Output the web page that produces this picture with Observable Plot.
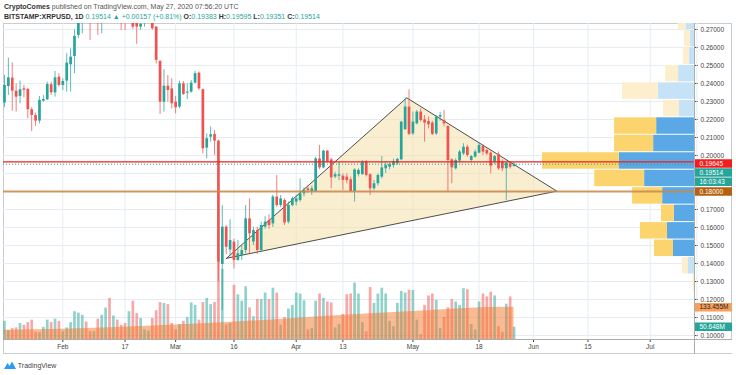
<!DOCTYPE html>
<html><head><meta charset="utf-8">
<script src="https://cdn.jsdelivr.net/npm/d3@7"></script>
<script src="https://cdn.jsdelivr.net/npm/@observablehq/plot@0.6"></script>
<style>
body{margin:0;background:#fff;font-family:"Liberation Sans",Arial,sans-serif;}
#wrap{position:relative;width:736px;height:375px;overflow:hidden;background:#fff;}
.layer{position:absolute;top:0;left:0;}
.hdr{position:absolute;left:4px;font-size:7px;line-height:9px;white-space:nowrap;color:#555;}
.hdr b{color:#333;}
.t{color:#26a69a;}
.box{position:absolute;box-sizing:border-box;}
</style></head>
<body><div id="wrap">
<div class="hdr" style="top:2px"><b>CryptoComes</b> published on TradingView.com, May 27, 2020 07:56:20 UTC</div>
<div class="hdr" id="hdr2" style="top:12px"></div>
<div class="box" style="left:3px;top:23px;width:729px;height:331px;border:1px solid #c9ccd1;"></div>
<div id="L1" class="layer"></div>
<div id="L2" class="layer"></div>
<div id="L3" class="layer"></div>
<div id="L4" class="layer"></div>
<div class="box" style="left:694.5px;top:340px;width:37px;height:13px;background:#fff;"></div>
<div class="box" style="left:694px;top:23px;width:1px;height:331px;background:#a9adb4;"></div>
<div class="box" style="left:3px;top:339px;width:729px;height:1px;background:#a9adb4;"></div>
<div id="L5" class="layer" style="left:695px"></div>
<div id="L6" class="layer" style="left:695px"></div>
<div class="box" style="left:4px;top:361px;height:10px;font-size:7px;color:#444;white-space:nowrap;">
<svg width="12" height="8" viewBox="0 0 12 8" style="vertical-align:-1px"><path d="M0 8 L3.5 2 L5.5 5 L8 0.5 L12 8 Z" fill="#2a9df4"/></svg> TradingView</div>
</div>
<script>
// ---- data ----
const firstDay = "2020-01-17";
const open  = [0.2291,0.2383,0.2430,0.2357,0.2328,0.2370,0.2367,0.2254,0.2222,0.2191,0.2302,0.2309,0.2393,0.2348,0.2435,
 0.2389,0.2413,0.2504,0.2550,0.2667,0.2780,0.2850,0.2840,0.2790,0.2850,0.2790,0.3000,0.3300,0.3200,0.3250,0.3000,0.2850,0.2780,0.2900,0.2735,0.2713,0.2760,0.2790,0.2840,0.2713,0.2522,0.2296,0.2385,0.2370,
 0.2296,0.2269,0.2398,0.2346,0.2352,0.2402,0.2457,0.2365,0.2041,0.2102,0.2117,0.2080,0.1395,0.1602,0.1475,0.1519,0.1417,0.1444,0.1472,0.1648,0.1519,0.1583,0.1472,0.1602,0.1639,0.1620,0.1769,0.1722,0.1750,0.1630,0.1722,
 0.1741,0.1750,0.1787,0.1815,0.1800,0.1800,0.1981,0.1931,0.2024,0.1976,0.1880,0.1885,0.1885,0.1880,0.1865,0.1800,0.1894,0.1894,0.1963,0.1893,0.1815,0.1843,0.1880,0.1926,0.1935,0.1944,0.1954,0.1976,0.2143,0.2269,
 0.2120,0.2176,0.2241,0.2198,0.2189,0.2180,0.2120,0.2213,0.2194,0.2161,0.1976,0.1926,0.1969,0.2009,0.2046,0.1972,0.1991,0.2013,0.2050,0.2028,0.2013,0.1963,0.2006,0.1963,0.1926,0.1954,0.19383];
const high  = [0.2444,0.2541,0.2515,0.2398,0.2413,0.2389,0.2372,0.2265,0.2235,0.2328,0.2333,0.2407,0.2407,0.2467,0.2454,
 0.2426,0.2565,0.2593,0.2698,0.2800,0.2900,0.2900,0.2900,0.2880,0.2900,0.3050,0.3350,0.3450,0.3300,0.3300,0.3050,0.2900,0.2950,0.2950,0.2770,0.2800,0.2820,0.2900,0.2870,0.2716,0.2528,0.2476,0.2444,0.2426,
 0.2328,0.2413,0.2411,0.2398,0.2417,0.2467,0.2463,0.2370,0.2120,0.2159,0.2139,0.2085,0.1722,0.1611,0.1643,0.1535,0.1528,0.1500,0.1722,0.1759,0.1602,0.1602,0.1630,0.1660,0.1670,0.1780,0.1889,0.1778,0.1759,0.1741,0.1770,
 0.1780,0.1870,0.1820,0.1830,0.1830,0.1990,0.2056,0.2028,0.2028,0.1985,0.1907,0.1963,0.1898,0.1898,0.1880,0.1926,0.1926,0.1972,0.1972,0.1898,0.1861,0.1898,0.1994,0.1963,0.1960,0.1980,0.1985,0.2190,0.2320,0.2365,
 0.2241,0.2250,0.2259,0.2222,0.2213,0.2190,0.2222,0.2240,0.2250,0.2165,0.1981,0.1981,0.2028,0.2065,0.2056,0.2000,0.2030,0.2069,0.2060,0.2037,0.2019,0.2000,0.2019,0.1976,0.1965,0.1960,0.19595];
const low   = [0.2265,0.2333,0.2246,0.2241,0.2287,0.2320,0.2204,0.2133,0.2161,0.2176,0.2296,0.2306,0.2333,0.2324,0.2380,
 0.2361,0.2352,0.2352,0.2454,0.2650,0.2676,0.2770,0.2639,0.2770,0.2667,0.2676,0.2980,0.3100,0.3150,0.2950,0.2694,0.2694,0.2760,0.2700,0.2617,0.2694,0.2713,0.2770,0.2695,0.2509,0.2228,0.2241,0.2296,0.2259,
 0.2231,0.2259,0.2333,0.2310,0.2346,0.2398,0.2361,0.2009,0.1981,0.2074,0.2000,0.1300,0.1140,0.1450,0.1444,0.1370,0.1413,0.1417,0.1454,0.1454,0.1500,0.1450,0.1460,0.1590,0.1590,0.1600,0.1710,0.1710,0.1611,0.1620,0.1715,
 0.1720,0.1740,0.1770,0.1790,0.1778,0.1796,0.1920,0.1926,0.1957,0.1815,0.1870,0.1861,0.1806,0.1843,0.1796,0.1741,0.1880,0.1889,0.1880,0.1778,0.1806,0.1830,0.1870,0.1900,0.1920,0.1930,0.1945,0.1970,0.2140,0.2110,
 0.2111,0.2170,0.2185,0.2074,0.2148,0.2111,0.2111,0.2190,0.2160,0.1796,0.1843,0.1920,0.1960,0.2000,0.1990,0.1960,0.1985,0.2009,0.2000,0.2000,0.1898,0.1950,0.1917,0.1910,0.1750,0.1925,0.19351];
const close = [0.2389,0.2431,0.2357,0.2324,0.2365,0.2362,0.2254,0.2222,0.2191,0.2306,0.2311,0.2394,0.2348,0.2431,0.2389,
 0.2411,0.2513,0.2546,0.2661,0.2780,0.2850,0.2810,0.2790,0.2850,0.2790,0.3000,0.3300,0.3200,0.3250,0.3000,0.2850,0.2780,0.2900,0.2713,0.2713,0.2728,0.2790,0.2840,0.2704,0.2528,0.2296,0.2385,0.2361,0.2287,
 0.2265,0.2398,0.2339,0.2352,0.2402,0.2454,0.2370,0.2037,0.2093,0.2115,0.2080,0.1407,0.1602,0.1490,0.1528,0.1417,0.1454,0.1472,0.1648,0.1565,0.1583,0.1472,0.1611,0.1630,0.1611,0.1769,0.1722,0.1759,0.1625,0.1722,0.1759,
 0.1759,0.1787,0.1806,0.1806,0.1815,0.1981,0.1931,0.2024,0.1963,0.1876,0.1893,0.1893,0.1861,0.1861,0.1800,0.1920,0.1917,0.1963,0.1889,0.1815,0.1843,0.1889,0.1931,0.1944,0.1950,0.1967,0.1978,0.2185,0.2269,0.2117,
 0.2185,0.2241,0.2194,0.2180,0.2170,0.2117,0.2213,0.2222,0.2176,0.1972,0.1931,0.1972,0.2019,0.2046,0.2000,0.1994,0.2019,0.2056,0.2019,0.2009,0.1941,0.1994,0.1926,0.1926,0.1957,0.1935,0.19514];
const volume = [75,37,45,48,66,59,70,80,30,28,50,80,70,84,75,
 32,48,70,115,109,100,72,32,32,84,100,130,170,97,80,59,66,115,158,107,87,40,35,87,119,153,149,144,66,
 40,62,75,91,151,141,80,153,170,144,153,320,290,60,67,224,185,158,218,131,94,165,165,192,165,212,192,59,91,126,141,
 192,188,160,40,45,158,188,170,155,151,48,62,103,185,188,233,188,70,32,215,149,188,212,188,75,53,149,199,192,203,
 203,80,20,141,180,188,162,45,92,131,165,155,141,210,206,62,40,155,188,176,195,180,53,30,146,176,50.648];
// volume moving average, read at a few dates (M)
const maDates  = ["2020-01-17","2020-02-01","2020-02-15","2020-03-01","2020-03-12","2020-03-25","2020-04-08","2020-04-20","2020-05-01","2020-05-12","2020-05-20","2020-05-27"];
const maValues = [38,42,50,60,68,80,95,106,116,126,132,133.455];
// triangle pattern
const triDates  = ["2020-03-14T02:00Z","2020-04-29T10:00Z","2020-06-07T00:00Z","2020-03-14T02:00Z"];
const triPrices = [0.1429,0.2320,0.1802,0.1429];
// horizontal levels
const resistance = 0.19645, lastPrice = 0.19514, support = 0.18;
// visible range volume profile (bins, M)
const profEdges = [0.1242,0.1339,0.1436,0.1533,0.1630,0.1727,0.1824,0.1921,0.2018,0.2115,0.2212,0.2309,0.2406,0.2503,0.2600,0.2697,0.2794];
const profUp    = [0,20,70,90,67,106,166,250,136,126,50,120,53,17,13,27];
const profDown  = [5,20,63,90,43,100,166,256,130,140,53,120,43,20,20,27];
const profInVA  = [0,0,1,1,1,1,1,1,1,1,0,0,0,0,0,0];
// axes
const priceTicks = [0.10,0.11,0.12,0.13,0.14,0.15,0.16,0.17,0.18,0.19,0.20,0.21,0.22,0.23,0.24,0.25,0.26,0.27];
const xTickDates = ["2020-02-01","2020-02-17","2020-03-01","2020-03-16","2020-04-01","2020-04-13","2020-05-01","2020-05-18","2020-06-01","2020-06-15","2020-07-01","2020-07-13"];
const xTickText  = ["Feb","17","Mar","16","Apr","13","May","18","Jun","15","Jul","13"];

// ---- build ----
const teal = "#26a69a", red = "#ef5350";
const t0 = new Date(firstDay);
const candles = open.map((o, i) => ({
  date: new Date(Date.UTC(t0.getUTCFullYear(), t0.getUTCMonth(), t0.getUTCDate() + i)),
  open: o, high: high[i], low: low[i], close: close[i], volume: volume[i],
  color: close[i] >= o ? teal : red
}));
const ma = maDates.map((d, i) => ({date: new Date(d), value: maValues[i]}));
const tri = triDates.map((d, i) => ({date: new Date(d), price: triPrices[i]}));
const profRects = [];
profUp.forEach((u, i) => {
  const lo = profEdges[i], hi = profEdges[i + 1], va = profInVA[i];
  profRects.push({lo, hi, x1: 0, x2: u, fill: va ? "#5aa9e6" : "#c6e2f6"});
  profRects.push({lo, hi, x1: u, x2: u + profDown[i], fill: va ? "#fbd46d" : "#fdefcd"});
});
const xTicks = xTickDates.map(d => new Date(d));
const xLabel = new Map(xTicks.map((d, i) => [+d, xTickText[i]]));

const W = 736, H = 356, MT = 23, MB = 17, ML = 3, MR = 42;
const xDomain = [new Date("2020-01-16T18:00Z"), new Date("2020-07-12T09:20Z")];
const yDomain = [0.0978, 0.2733];
const volDomain = [0, 1306];
const font = {background: "transparent", fontFamily: "Liberation Sans, Arial, sans-serif", fontSize: "6.5px", color: "#444", overflow: "visible"};
const common = {width: W, height: H, marginTop: MT, marginBottom: MB, marginLeft: ML, marginRight: MR, style: font};
const grid = "#e6edf2";

// layer 1: grid, triangle, axes
document.getElementById("L1").append(Plot.plot({
  ...common,
  x: {type: "utc", domain: xDomain, ticks: xTicks, tickFormat: d => xLabel.get(+d), tickSize: 3, tickPadding: 2, label: null},
  y: {domain: yDomain, axis: "right", ticks: priceTicks, tickFormat: d3.format(".5f"), tickSize: 3, tickPadding: 3, label: null},
  marks: [
    Plot.ruleY(priceTicks, {stroke: grid}),
    Plot.ruleX(xTicks, {stroke: grid}),
    Plot.line(tri, {x: "date", y: "price", fill: "#f5dea3", fillOpacity: 0.5, stroke: "#3a3a3a", strokeWidth: 0.9})
  ]
}));

// layer 2: volume profile
document.getElementById("L2").append(Plot.plot({
  ...common,
  x: {domain: [0, 2300], reverse: true, axis: null},
  y: {domain: yDomain, axis: null},
  marks: [
    Plot.rect(profRects, {x1: "x1", x2: "x2", y1: "lo", y2: "hi", fill: "fill", insetTop: 0.5, insetBottom: 0.5, clip: true})
  ]
}));

// layer 3: volume bars + moving average
document.getElementById("L3").append(Plot.plot({
  ...common,
  x: {type: "utc", domain: xDomain, axis: null},
  y: {domain: volDomain, axis: null},
  marks: [
    Plot.ruleX(candles, {x: "date", y1: 0, y2: "volume", stroke: "color", strokeOpacity: 0.5, strokeWidth: 2.7}),
    Plot.areaY(ma, {x: "date", y: "value", fill: "#f5772a", fillOpacity: 0.5})
  ]
}));

// layer 4: candles and levels
document.getElementById("L4").append(Plot.plot({
  ...common,
  x: {type: "utc", domain: xDomain, axis: null},
  y: {domain: yDomain, axis: null},
  marks: [
    Plot.ruleX(candles, {x: "date", y1: "low", y2: "high", stroke: "color", strokeOpacity: 0.75, strokeWidth: 1, clip: true}),
    Plot.ruleX(candles, {x: "date", y1: "open", y2: "close", stroke: "color", strokeWidth: 2.7, clip: true}),
    Plot.ruleY([support], {stroke: "#c9874a", strokeOpacity: 0.85, strokeWidth: 2}),
    Plot.ruleY([lastPrice], {stroke: teal, strokeDasharray: "1,2", strokeWidth: 1}),
    Plot.ruleY([resistance], {stroke: "#f01e1e", strokeWidth: 1.3})
  ]
}));

// right-side value labels
function labelPanel(domain, labels) {
  return Plot.plot({
    width: 37, height: H, marginTop: MT, marginBottom: MB, marginLeft: 0, marginRight: 0,
    style: font,
    y: {domain, axis: null},
    marks: labels.flatMap(l => [
      Plot.ruleY([l], {y: "value", dy: l.dy, stroke: l.bg, strokeWidth: 8.5}),
      Plot.text([l], {y: "value", dy: l.dy, text: "text", fill: l.fg, frameAnchor: "left", dx: 4, textAnchor: "start"})
    ])
  });
}
document.getElementById("L5").append(labelPanel(yDomain, [
  {value: resistance, text: "0.19645", bg: "#f21d1d", fg: "#fff", dy: 1.6},
  {value: lastPrice, text: "0.19514", bg: teal, fg: "#fff", dy: 8.3},
  {value: lastPrice, text: "16:03:43", bg: teal, fg: "#fff", dy: 17.6},
  {value: support, text: "0.18000", bg: "#b5610f", fg: "#fff", dy: 0}
]));
document.getElementById("L6").append(labelPanel(volDomain, [
  {value: maValues[maValues.length - 1], text: "133.455M", bg: "#f8a05a", fg: "#222", dy: 0},
  {value: volume[volume.length - 1], text: "50.648M", bg: teal, fg: "#fff", dy: -0.6}
]));

// header line 2
const last = candles[candles.length - 1], prev = candles[candles.length - 2];
const chg = last.close - prev.close;
document.getElementById("hdr2").innerHTML =
  `<b>BITSTAMP:XRPUSD, 1D</b> <span class="t">${last.close.toFixed(5)} ▲ +0.00157 (+0.81%)</span> ` +
  `<b>O:</b><span class="t">${last.open.toFixed(5)}</span> <b>H:</b><span class="t">${last.high.toFixed(5)}</span> ` +
  `<b>L:</b><span class="t">${last.low.toFixed(5)}</span> <b>C:</b><span class="t">${last.close.toFixed(5)}</span>`;
</script>
</body></html>
